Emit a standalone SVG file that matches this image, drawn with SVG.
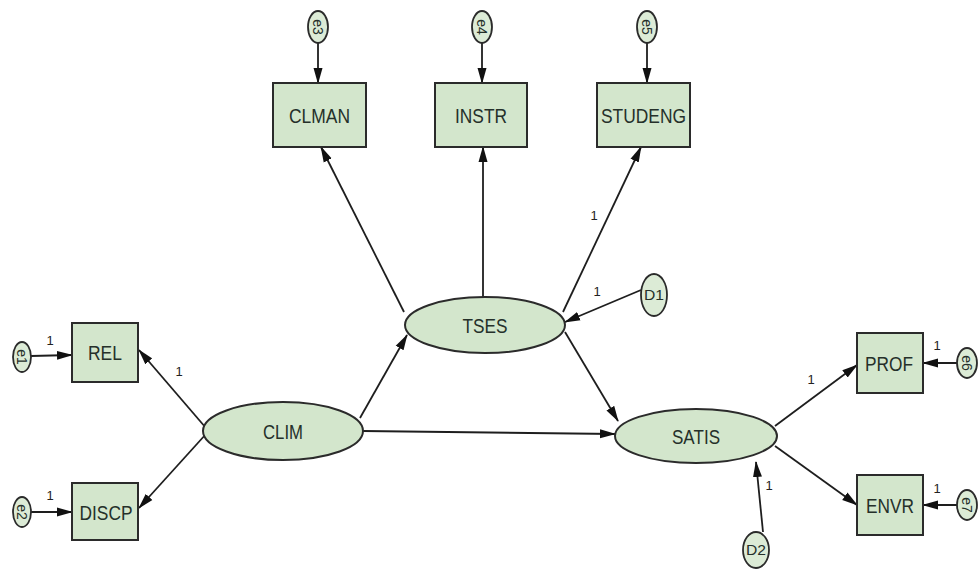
<svg xmlns="http://www.w3.org/2000/svg" width="980" height="576" viewBox="0 0 980 576">
  <style>
    .box { fill: #d3e6cc; stroke: #2b2b2b; stroke-width: 2; }
    .lat { fill: #d3e6cc; stroke: #2b2b2b; stroke-width: 2; }
    .err { fill: #dcebd6; stroke: #2b2b2b; stroke-width: 1.8; }
    .lbl { font-family: "Liberation Sans", Arial, sans-serif; font-size: 21px; fill: #25302a; text-anchor: middle; dominant-baseline: central; }
    .elbl { font-family: "Liberation Sans", Arial, sans-serif; font-size: 14px; fill: #25302a; text-anchor: middle; dominant-baseline: central; }
    .one { font-family: "Liberation Sans", Arial, sans-serif; font-size: 13px; fill: #222222; text-anchor: middle; }
    .path { fill: none; stroke: #1e1e1e; stroke-width: 1.8; marker-end: url(#head); }
  </style>
  <defs>
    <marker id="head" markerWidth="16" markerHeight="10" refX="15" refY="5" orient="auto" markerUnits="userSpaceOnUse">
      <path d="M0,0.5 L16,5 L0,9.5 Z" fill="#111"/>
    </marker>
  </defs>
  <rect width="980" height="576" fill="#ffffff"/>

  <!-- connectors -->
  <g id="connectors">
    <line class="path" x1="318" y1="43" x2="318" y2="83"/>
    <line class="path" x1="482" y1="43" x2="482" y2="83"/>
    <line class="path" x1="647" y1="43" x2="647" y2="83"/>
    <line class="path" x1="404" y1="312" x2="321" y2="147"/>
    <line class="path" x1="483" y1="297" x2="483" y2="147"/>
    <line class="path" x1="563" y1="312" x2="641" y2="147"/>
    <line class="path" x1="641" y1="290" x2="565" y2="322"/>
    <line class="path" x1="360" y1="418" x2="407" y2="335"/>
    <line class="path" x1="363" y1="431" x2="615" y2="434"/>
    <line class="path" x1="565" y1="332" x2="618" y2="421"/>
    <line class="path" x1="206" y1="428" x2="139" y2="350"/>
    <line class="path" x1="206" y1="434" x2="139" y2="508"/>
    <line class="path" x1="775" y1="426" x2="857" y2="365"/>
    <line class="path" x1="775" y1="446" x2="857" y2="505"/>
    <line class="path" x1="763" y1="532" x2="756" y2="462"/>
    <line class="path" x1="31" y1="356" x2="72" y2="355"/>
    <line class="path" x1="31" y1="512" x2="72" y2="512"/>
    <line class="path" x1="957" y1="363" x2="923" y2="363"/>
    <line class="path" x1="957" y1="505" x2="923" y2="505"/>
    <text class="one" x="594" y="220">1</text>
    <text class="one" x="597" y="296">1</text>
    <text class="one" x="179" y="376">1</text>
    <text class="one" x="811" y="384">1</text>
    <text class="one" x="769" y="490">1</text>
    <text class="one" x="50" y="345">1</text>
    <text class="one" x="50" y="500">1</text>
    <text class="one" x="937" y="350">1</text>
    <text class="one" x="937" y="493">1</text>
  </g>

  <!-- observed indicators -->
  <g id="CLMAN"><rect class="box" x="273" y="83" width="93" height="64"/><text class="lbl" x="319.5" y="115" textLength="61" lengthAdjust="spacingAndGlyphs">CLMAN</text></g>
  <g id="INSTR"><rect class="box" x="435" y="83" width="92" height="64"/><text class="lbl" x="481" y="115" textLength="52" lengthAdjust="spacingAndGlyphs">INSTR</text></g>
  <g id="STUDENG"><rect class="box" x="597" y="83" width="93" height="64"/><text class="lbl" x="643.5" y="115" textLength="85" lengthAdjust="spacingAndGlyphs">STUDENG</text></g>
  <g id="REL"><rect class="box" x="72" y="323" width="66" height="59"/><text class="lbl" x="105" y="352" textLength="34" lengthAdjust="spacingAndGlyphs">REL</text></g>
  <g id="DISCP"><rect class="box" x="72" y="483" width="66" height="57"/><text class="lbl" x="106" y="512" textLength="53" lengthAdjust="spacingAndGlyphs">DISCP</text></g>
  <g id="PROF"><rect class="box" x="857" y="333" width="66" height="60"/><text class="lbl" x="889" y="363" textLength="48" lengthAdjust="spacingAndGlyphs">PROF</text></g>
  <g id="ENVR"><rect class="box" x="857" y="475" width="66" height="60"/><text class="lbl" x="890" y="505" textLength="48" lengthAdjust="spacingAndGlyphs">ENVR</text></g>

  <!-- latent constructs -->
  <g id="TSES"><ellipse class="lat" cx="485" cy="325" rx="80" ry="28"/><text class="lbl" x="485" y="325" textLength="45" lengthAdjust="spacingAndGlyphs">TSES</text></g>
  <g id="CLIM"><ellipse class="lat" cx="283" cy="431" rx="80" ry="29"/><text class="lbl" x="283" y="431" textLength="40" lengthAdjust="spacingAndGlyphs">CLIM</text></g>
  <g id="SATIS"><ellipse class="lat" cx="696" cy="436" rx="81" ry="27"/><text class="lbl" x="696" y="436" textLength="48" lengthAdjust="spacingAndGlyphs">SATIS</text></g>

  <!-- disturbances -->
  <g id="D1"><ellipse class="err" cx="654" cy="295" rx="13" ry="21"/><text class="elbl" x="654" y="295" textLength="20" lengthAdjust="spacingAndGlyphs">D1</text></g>
  <g id="D2"><ellipse class="err" cx="756" cy="550" rx="13" ry="18"/><text class="elbl" x="756" y="550" textLength="20" lengthAdjust="spacingAndGlyphs">D2</text></g>

  <!-- measurement errors -->
  <g id="e3"><ellipse class="err" cx="318" cy="27" rx="10" ry="16"/><text class="elbl" transform="translate(318 27) rotate(90)">e3</text></g>
  <g id="e4"><ellipse class="err" cx="482" cy="27" rx="10" ry="16"/><text class="elbl" transform="translate(482 27) rotate(90)">e4</text></g>
  <g id="e5"><ellipse class="err" cx="647" cy="27" rx="10" ry="16"/><text class="elbl" transform="translate(647 27) rotate(90)">e5</text></g>
  <g id="e1"><ellipse class="err" cx="22" cy="357" rx="9" ry="15"/><text class="elbl" transform="translate(22 357) rotate(90)">e1</text></g>
  <g id="e2"><ellipse class="err" cx="22" cy="512" rx="9" ry="15"/><text class="elbl" transform="translate(22 512) rotate(90)">e2</text></g>
  <g id="e6"><ellipse class="err" cx="967" cy="363" rx="10" ry="15"/><text class="elbl" transform="translate(967 363) rotate(90)">e6</text></g>
  <g id="e7"><ellipse class="err" cx="967" cy="505" rx="10" ry="15"/><text class="elbl" transform="translate(967 505) rotate(90)">e7</text></g>
</svg>
